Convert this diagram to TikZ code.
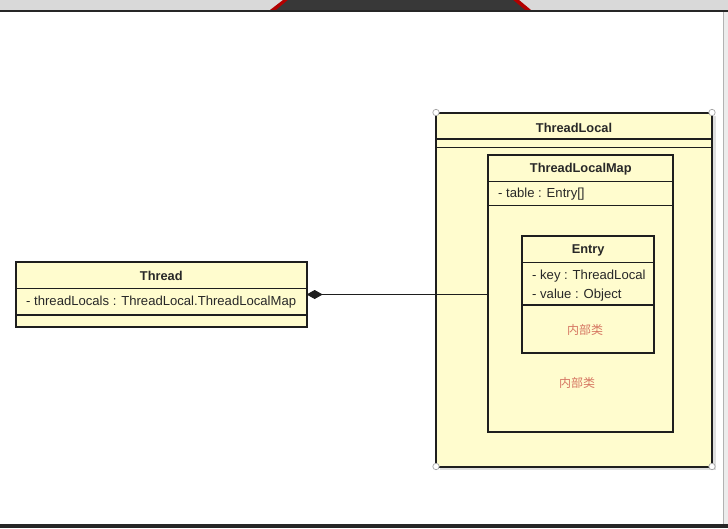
\documentclass[tikz,border=0pt]{standalone}
\usepackage{fontspec}
\setmainfont{Liberation Sans}
\newfontfamily\cjk{Noto Sans CJK SC}
\usetikzlibrary{arrows.meta}
\definecolor{umlfill}{RGB}{255,252,206}
\definecolor{umlline}{RGB}{30,30,30}
\definecolor{umltext}{RGB}{40,40,40}
\definecolor{innertext}{RGB}{214,118,98}
\begin{document}
\begin{tikzpicture}[x=1pt,y=-1pt,
  every node/.style={font=\fontsize{13.1}{15}\selectfont,text=umltext,inner sep=0pt},
  umlbox/.style={draw=umlline,line width=2pt,fill=umlfill,outer sep=0pt},
  divider/.style={draw=umlline,line width=1.3pt},
  title/.style={font=\fontsize{12.8}{15}\selectfont\bfseries},
  attr/.style={anchor=west},
  inner/.style={font=\cjk\fontsize{12}{14}\selectfont,text=innertext},
  handle/.style={draw=gray!70,fill=white,line width=0.7pt}]
\useasboundingbox (0,0) rectangle (728,528);
% screen frame
\fill[white] (0,0) rectangle (728,528);
\fill[gray!30] (0,0) rectangle (728,10);
\fill[red!70!black] (270,10) -- (283,0) -- (519,0) -- (531,10) -- cycle;
\fill[black!78] (276,10) -- (288,0) -- (513,0) -- (525,10) -- cycle;
\fill[black!85] (0,10) rectangle (728,12);
\fill[black!85] (0,524) rectangle (728,528);
\fill[gray!15] (723,12) rectangle (728,524);
\draw[gray!60,line width=0.8pt] (723.5,12) -- (723.5,524);
% ThreadLocal (outer class)
\fill[gray!25] (440,116) rectangle (716,470);
\node[umlbox,minimum width=276pt,minimum height=354pt] (tl) at (574,289.5) {};
\node[title] (tltitle) at (574,128) {ThreadLocal};
\draw[divider] (tl.west |- 0,139) -- (tl.east |- 0,139);
\draw[divider] (tl.west |- 0,147.5) -- (tl.east |- 0,147.5);
\foreach \c in {north west,north east,south west,south east} {\draw[handle] (tl.\c) circle (3.2);}
% ThreadLocalMap
\node[umlbox,minimum width=185pt,minimum height=277pt] (map) at (580.8,293.6) {};
\node[title] (maptitle) at (580.8,169) {ThreadLocalMap};
\draw[divider] (map.west |- 0,181.7) -- (map.east |- 0,181.7);
\draw[divider] (map.west |- 0,205.7) -- (map.east |- 0,205.7);
\node[attr] (table) at (498,194.5) {- table : Entry[]};
\node[inner] (mapinner) at (577,383) {内部类};
% Entry
\node[umlbox,minimum width=131.7pt,minimum height=116.7pt] (entry) at (588.2,294.3) {};
\node[title] (entrytitle) at (588.2,250) {Entry};
\draw[divider] (entry.west |- 0,262.3) -- (entry.east |- 0,262.3);
\draw[divider] (entry.west |- 0,305) -- (entry.east |- 0,305);
\node[attr] (key) at (532,276.5) {- key : ThreadLocal};
\node[attr] (value) at (532,295) {- value : Object};
\node[inner] (entryinner) at (585,330) {内部类};
% Thread
\node[umlbox,minimum width=290.7pt,minimum height=64.4pt] (thread) at (161.3,294.5) {};
\node[title] (threadtitle) at (161.3,276) {Thread};
\draw[divider] (thread.west |- 0,288.3) -- (thread.east |- 0,288.3);
\draw[divider] (thread.west |- 0,315) -- (thread.east |- 0,315);
\node[attr] (locals) at (26,302) {- threadLocals : ThreadLocal.ThreadLocalMap};
% composition
\draw[umlline,line width=1pt,-{Diamond[length=16pt,width=9pt,fill=umlline]}] (map.west |- thread.east) -- (thread.east);
\end{tikzpicture}
\end{document}
